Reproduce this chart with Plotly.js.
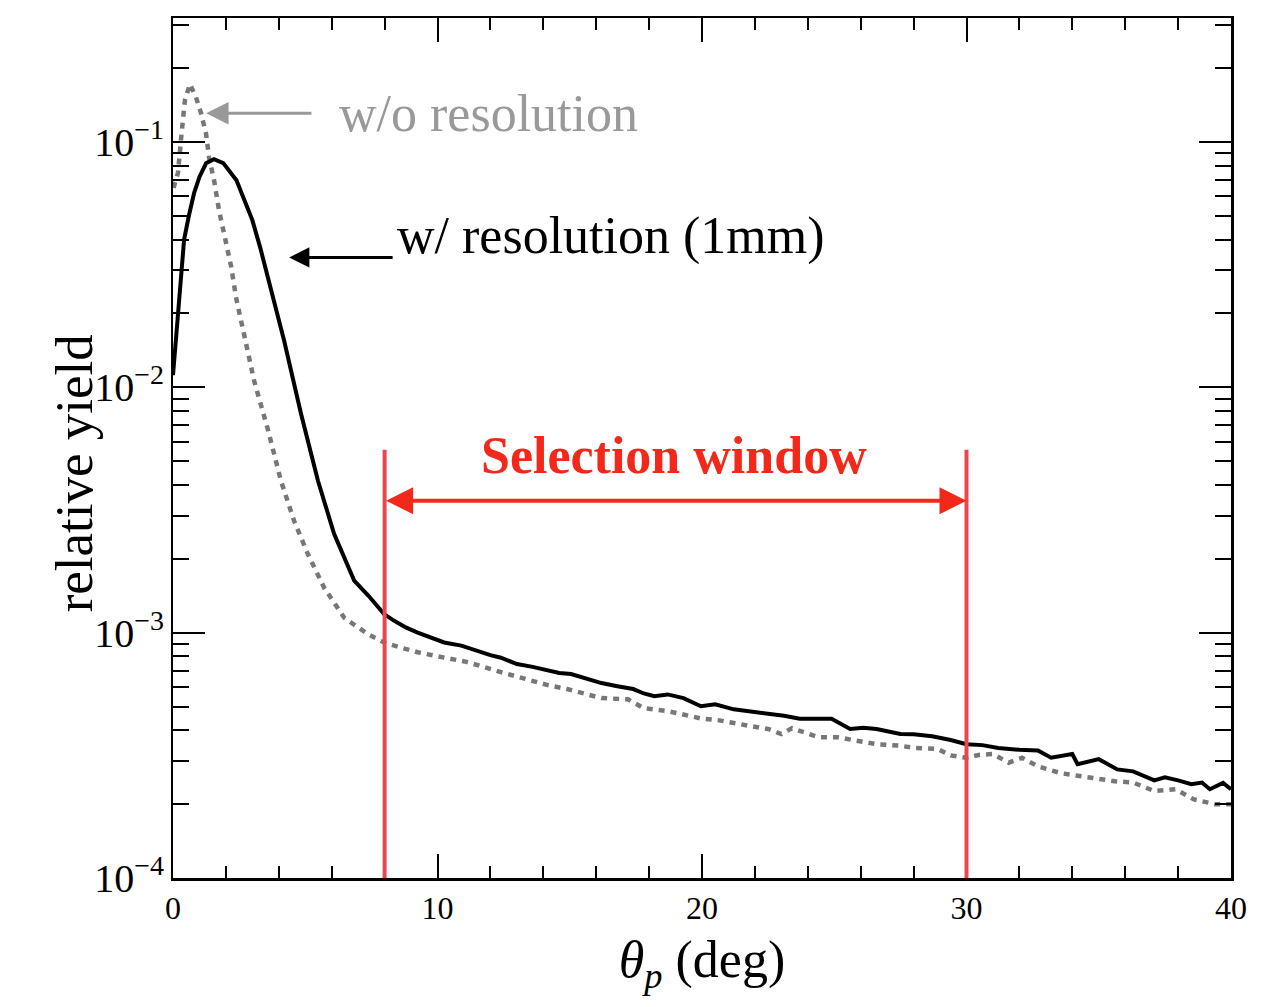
<!DOCTYPE html>
<html>
<head>
<meta charset="utf-8">
<script src="https://cdn.plot.ly/plotly-3.0.1.min.js"></script>
<style>html,body{margin:0;padding:0;background:#fff;}#chart{width:1261px;height:1007px;}</style>
</head>
<body>
<div id="chart"></div>
<script>
// theta_p (deg) and relative yield, with 1mm resolution (solid black)
const thetaRes = [0.0,0.1,0.2,0.3,0.42,0.6,0.8,1.0,1.25,1.55,1.9,2.4,2.7,3.0,3.3,3.6,3.9,4.2,4.84,5.48,6.09,6.85,7.4,7.98,8.35,8.8,9.25,9.8,10.25,10.9,11.5,12.0,12.4,13.0,13.6,14.2,14.6,15.05,15.6,16.2,16.8,17.4,17.8,18.2,18.7,19.3,19.96,20.5,21.2,21.8,22.5,23.1,23.7,24.3,24.9,25.6,26.1,26.6,27.5,28.0,28.7,29.4,30.0,30.6,31.2,32.0,32.7,33.2,34.0,34.2,35.0,35.7,36.3,37.1,37.5,38.0,38.5,38.9,39.2,39.7,40.0];
const yieldRes = [0.0112,0.015,0.021,0.027,0.040,0.050,0.062,0.072,0.0818,0.085,0.082,0.0698,0.058,0.048,0.037,0.028,0.021,0.0155,0.0078,0.00416,0.00253,0.00163,0.00141,0.00119,0.00112,0.00105,0.00100,0.000955,0.000912,0.000885,0.000842,0.00081,0.00079,0.000745,0.000725,0.000698,0.000685,0.000678,0.00065,0.000623,0.000605,0.000589,0.000565,0.000551,0.00056,0.000541,0.000501,0.00051,0.000487,0.000478,0.00047,0.000458,0.000446,0.000445,0.000446,0.000405,0.00041,0.000405,0.000386,0.000385,0.000378,0.000365,0.000351,0.000348,0.000339,0.000333,0.000331,0.000309,0.00032,0.000291,0.000305,0.000277,0.000272,0.00025,0.000257,0.00025,0.000241,0.000245,0.00023,0.000244,0.00023];

// without resolution (gray dotted)
const thetaNoRes = [0.02,0.19,0.3,0.38,0.45,0.64,0.87,1.06,1.25,1.36,1.55,1.74,1.93,2.2,2.38,2.7,3.07,3.6,4.08,4.58,5.1,5.72,6.47,7.37,7.98,8.6,9.25,9.9,11.1,12.4,13.0,13.6,14.2,14.9,15.5,16.2,17.2,17.8,18.7,19.4,20.0,20.6,21.2,21.9,22.5,23.0,23.4,24.4,25.1,25.6,26.6,27.5,28.0,28.9,29.4,30.0,30.5,31.0,31.6,32.1,32.7,33.6,34.3,35.0,35.6,36.3,37.1,37.9,38.6,39.4,40.0];
const yieldNoRes = [0.065,0.075,0.1016,0.123,0.148,0.172,0.152,0.131,0.108,0.0867,0.070,0.0526,0.042,0.031,0.0233,0.016,0.0106,0.00665,0.00416,0.00285,0.00209,0.00152,0.00115,0.000986,0.000912,0.00087,0.000832,0.000805,0.00076,0.00069,0.00066,0.000635,0.00061,0.000589,0.000565,0.000541,0.000535,0.000492,0.000479,0.00046,0.000446,0.00044,0.000427,0.000415,0.000405,0.000386,0.000408,0.000375,0.000375,0.000366,0.000351,0.000346,0.000339,0.000336,0.000316,0.000309,0.000318,0.00032,0.000295,0.000309,0.000285,0.000267,0.00026,0.000254,0.000248,0.000245,0.000226,0.00023,0.000209,0.0002,0.0002];

// selection window bounds (deg)
const selWindow = [8, 30];

const labels = {
  noRes: 'w/o resolution',
  res: 'w/ resolution (1mm)',
  sel: 'Selection window',
  xTitle: '<i>θ</i><sub><i>p</i></sub> (deg)',
  yTitle: 'relative yield'
};

const FONT = 'Liberation Serif, Times New Roman, serif';
const RED = '#f2291a';
const REDLINE = '#e9474c';

const traces = [
  {x: thetaNoRes, y: yieldNoRes, type: 'scatter', mode: 'lines', name: labels.noRes,
   line: {color: '#777777', width: 4.5, dash: '6px,6px'}},
  {x: thetaRes, y: yieldRes, type: 'scatter', mode: 'lines', name: labels.res,
   line: {color: '#000000', width: 4}}
];

const axisCommon = {
  showline: true, linecolor: '#000', linewidth: 2.5, mirror: 'allticks',
  ticks: 'inside', tickcolor: '#000', tickwidth: 2,
  showgrid: false, zeroline: false,
  tickfont: {family: FONT, size: 32, color: '#000'}
};

const layout = {
  width: 1261, height: 1007,
  margin: {l: 173, r: 30, t: 18, b: 129},
  paper_bgcolor: '#fff', plot_bgcolor: '#fff',
  showlegend: false,
  font: {family: FONT, color: '#000'},
  xaxis: Object.assign({}, axisCommon, {
    range: [0, 40], dtick: 10, tick0: 0, ticklen: 24,
    minor: {ticks: 'inside', ticklen: 12, tickwidth: 2, tickcolor: '#000', dtick: 2},
    title: {text: labels.xTitle, font: {family: FONT, size: 52, color: '#000'}, standoff: 16}
  }),
  yaxis: Object.assign({}, axisCommon, {
    type: 'log', range: [-4, -0.495], dtick: 1, ticklen: 32,
    exponentformat: 'power',
    minor: {ticks: 'inside', ticklen: 16, tickwidth: 2, tickcolor: '#000', dtick: 'D1'},
    title: {text: '', font: {family: FONT, size: 53, color: '#000'}}
  }),
  shapes: selWindow.map(v => ({
    type: 'line', xref: 'x', yref: 'paper', x0: v, x1: v, y0: 0, y1: 0.498,
    line: {color: REDLINE, width: 4}
  })),
  annotations: [
    // y-axis title
    {xref: 'paper', yref: 'paper', x: -0.094, y: 0.47, xanchor: 'center', yanchor: 'middle',
     textangle: -90, text: labels.yTitle, showarrow: false, font: {family: FONT, size: 53, color: '#000'}},
    {xref: 'x', yref: 'y', x: 6.2, y: -0.885, xanchor: 'left', yanchor: 'middle',
     text: labels.noRes, showarrow: false, font: {family: FONT, size: 52, color: '#999999'}},
    {xref: 'x', yref: 'y', x: 8.4, y: -1.385, xanchor: 'left', yanchor: 'middle',
     text: labels.res, showarrow: false, font: {family: FONT, size: 52, color: '#000'}},
    {xref: 'x', yref: 'y', x: 18.94, y: -2.28, xanchor: 'center', yanchor: 'middle',
     text: '<b>' + labels.sel + '</b>', showarrow: false, font: {family: FONT, size: 52, color: RED}},
    // gray arrow
    {xref: 'x', yref: 'y', axref: 'x', ayref: 'y', x: 1.25, y: -0.883, ax: 5.29, ay: -0.883,
     text: '', showarrow: true, arrowhead: 2, arrowsize: 1.5, arrowwidth: 3, arrowcolor: '#999999', standoff: 0},
    // black arrow
    {xref: 'x', yref: 'y', axref: 'x', ayref: 'y', x: 4.39, y: -1.471, ax: 8.36, ay: -1.471,
     text: '', showarrow: true, arrowhead: 2, arrowsize: 1.35, arrowwidth: 3, arrowcolor: '#000', standoff: 0},
    // red double arrow
    {xref: 'x', yref: 'y', axref: 'x', ayref: 'y', x: selWindow[1], y: -2.4625, ax: selWindow[0], ay: -2.4625,
     text: '', showarrow: true, arrowside: 'end+start', arrowhead: 2, startarrowhead: 2,
     arrowsize: 1.35, startarrowsize: 1.35, arrowwidth: 4, arrowcolor: RED, standoff: 0, startstandoff: 0}
  ]
};

Plotly.newPlot('chart', traces, layout, {displayModeBar: false, staticPlot: true});
</script>
</body>
</html>
